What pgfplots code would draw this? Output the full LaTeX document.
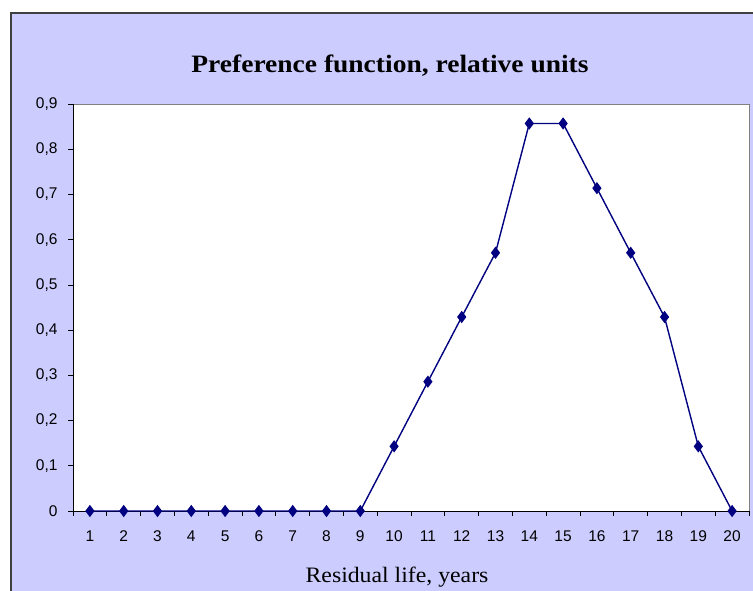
\documentclass[border=0pt]{standalone}
\usepackage{fontspec}
\setmainfont{Liberation Serif}
\newfontfamily\arialf{Liberation Sans}
\usepackage{pgfplots}
\pgfplotsset{compat=1.18}
\definecolor{chartbg}{RGB}{204,204,255}
\definecolor{navy}{RGB}{0,0,128}

\begin{document}
\begin{tikzpicture}
\useasboundingbox (0bp,0bp) rectangle (753bp,-591bp);
\fill[white] (0bp,0bp) rectangle (753bp,-591bp);
\fill[chartbg] (11bp,-13bp) rectangle (753bp,-591bp);
\draw[line width=1.5bp, black!75] (11bp,-591bp) -- (11bp,-13bp) -- (753bp,-13bp);

\begin{axis}[
    at={(73bp,-511bp)}, anchor=south west,
    scale only axis,
    width=676bp, height=407bp,
    xmin=0.5, xmax=20.5,
    ymin=0, ymax=0.9,
    axis x line*=bottom, axis y line*=left,
    axis line style={black, line width=0.9bp},
    axis background/.style={fill=white, draw=gray, line width=0.8bp},
    tick align=outside,
    major tick length=5bp,
    tick style={black, line width=0.8bp},
    ytick={0,0.1,0.2,0.3,0.4,0.5,0.6,0.7,0.8,0.9},
    yticklabel style={xshift=-7bp, /pgf/number format/.cd, fixed, precision=1, use comma},
    /pgf/number format/assume math mode=true,
    every tick label/.append style={font=\arialf\fontsize{15.5bp}{18bp}\selectfont, text=black},
    xtick={0.5,1.5,...,20.5},
    xticklabels={},
    extra x ticks={1,2,...,20},
    extra x tick labels={1,2,3,4,5,6,7,8,9,10,11,12,13,14,15,16,17,18,19,20},
    extra x tick style={major tick length=0pt, xticklabel style={yshift=-16bp}},
    clip=false,
  ]
  \addplot[navy, line width=1.4bp, mark=diamond*, mark size=5bp,
           mark options={fill=navy, solid}] coordinates {
      (1,0) (2,0) (3,0) (4,0) (5,0) (6,0) (7,0) (8,0) (9,0)
      (10,0.143) (11,0.286) (12,0.429) (13,0.571) (14,0.857)
      (15,0.857) (16,0.714) (17,0.571) (18,0.429) (19,0.143) (20,0)
    };
\end{axis}

\node[font=\fontsize{25bp}{30bp}\selectfont\bfseries, anchor=base, xscale=1.1]
  at (390bp,-72bp) {Preference function, relative units};
\node[font=\fontsize{22bp}{26bp}\selectfont, anchor=base, xscale=1.08]
  at (397bp,-582bp) {Residual life, years};
\end{tikzpicture}
\end{document}
